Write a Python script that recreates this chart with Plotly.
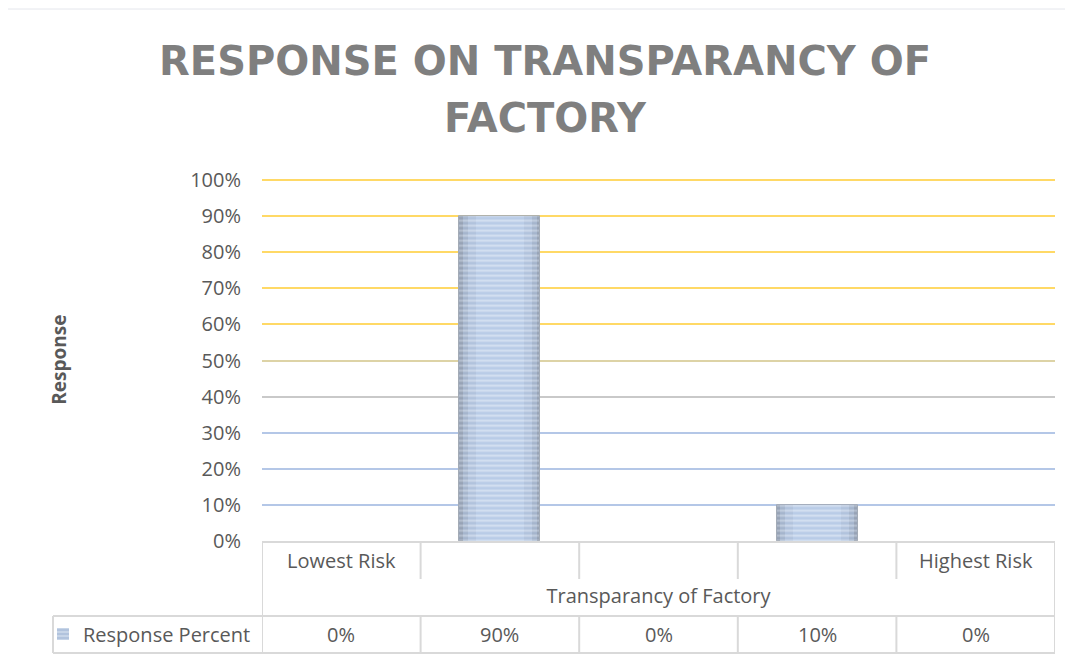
import plotly.graph_objects as go

# data
categories = ["Lowest Risk", "", "", "", "Highest Risk"]
response_pct = [0, 90, 0, 10, 0]
y_ticks = [0, 10, 20, 30, 40, 50, 60, 70, 80, 90, 100]
grid_groups = [  # (values, colour) - excel gradient gridlines
    ([60, 70, 80, 90, 100], "#ffd966"),
    ([50], "#ddd3a6"),
    ([40], "#c9c9c9"),
    ([10, 20, 30], "#b4c7e7"),
]

W, H = 1073, 664
OFF = 8  # page body margin
def px(x): return (x - OFF) / W
def py(y): return 1 - (y - OFF) / H

text_col = "#595959"
border = "#d9d9d9"
font = "Open Sans"

x_idx = list(range(len(categories)))
y_frac = [v / 100 for v in response_pct]
fig = go.Figure()

# stacked-width layers fake excel's gradient fill (dark edges, light centre)
layers = [  # (width, colour, stripe colour)
    (0.51, "#97a3b6", "#d4dbe6"),
    (0.47, "#a5b5cd", "#e0e7f1"),
    (0.40, "#b1c3dd", "#eaf0f8"),
    (0.30, "#b9cce7", "#f1f5fb"),
]
for k, (w, col, fg) in enumerate(layers):
    fig.add_trace(go.Bar(
        x=x_idx, y=y_frac, width=w, name="Response Percent",
        showlegend=(k == 2), hoverinfo="skip" if k else None,
        marker=dict(color=col,
                    line=dict(color="#a3abb6", width=[1 if (v and k == 0) else 0 for v in response_pct]),
                    pattern=dict(shape="-", fgcolor=fg, size=5, solidity=0.4)),
    ))

# one overlaid axis per gridline colour
layout_axes = {}
for i, (vals, col) in enumerate(grid_groups):
    name = "y%d" % (i + 2)
    fig.add_trace(go.Scatter(x=x_idx, y=[None] * len(x_idx), yaxis=name,
                             showlegend=False, hoverinfo="skip"))
    layout_axes["yaxis%d" % (i + 2)] = dict(
        overlaying="y", range=[0, 1.005], domain=[py(541), py(178.2)],
        tickvals=[v / 100 for v in vals], showticklabels=False,
        showgrid=True, gridcolor=col, gridwidth=1.5, zeroline=False, showline=False)

fig.update_layout(**layout_axes)

# table: category separators (row 1) and data row
shapes = []
for i in range(len(categories) + 1):
    xv = i - 0.5
    shapes.append(dict(type="line", xref="x", yref="paper", x0=xv, x1=xv,
                       y0=py(541), y1=py(579), line=dict(color=border, width=2)))
    shapes.append(dict(type="line", xref="x", yref="paper", x0=xv, x1=xv,
                       y0=py(616), y1=py(653), line=dict(color=border, width=2)))
for xv in [-0.5, len(categories) - 0.5]:
    shapes.append(dict(type="line", xref="x", yref="paper", x0=xv, x1=xv,
                       y0=py(579), y1=py(616), line=dict(color=border, width=2)))
shapes += [
    dict(type="line", xref="paper", yref="paper", x0=px(53), x1=px(1055),
         y0=py(616), y1=py(616), line=dict(color=border, width=2)),
    dict(type="line", xref="paper", yref="paper", x0=px(53), x1=px(1055),
         y0=py(653), y1=py(653), line=dict(color=border, width=2)),
    dict(type="line", xref="paper", yref="paper", x0=px(53), x1=px(53),
         y0=py(616), y1=py(653), line=dict(color=border, width=2)),
    # chart border
    dict(type="rect", xref="paper", yref="paper", x0=px(7), x1=1.01,
         y0=-0.01, y1=py(9), line=dict(color="#e4e6ec", width=1)),
]

annotations = [
    dict(text="FACTORY", x=px(545), y=py(118), xref="paper", yref="paper",
         xanchor="center", yanchor="middle", showarrow=False,
         font=dict(family="DejaVu Sans", size=40, color="#7f7f7f", weight="bold")),
]
for i, v in enumerate(response_pct):
    annotations.append(dict(x=i, y=py(634), xref="x", yref="paper",
                            xanchor="center", yanchor="middle",
                            text="%d%%" % v, showarrow=False,
                            font=dict(family=font, size=20, color=text_col)))

fig.update_layout(
    width=W, height=H,
    margin=dict(l=0, r=0, t=0, b=0),
    paper_bgcolor="white", plot_bgcolor="white",
    title=dict(text="RESPONSE ON TRANSPARANCY OF",
               x=px(545), xanchor="center", y=py(61), yanchor="middle", yref="container",
               font=dict(family="DejaVu Sans", size=40, color="#7f7f7f", weight="bold")),
    barmode="overlay",
    xaxis=dict(domain=[px(262), px(1055)], range=[-0.5, len(categories) - 0.5],
               tickvals=x_idx, ticktext=categories, ticks="", ticklabelstandoff=1,
               tickfont=dict(family=font, size=20, color=text_col),
               showline=True, linecolor=border, linewidth=2, showgrid=False,
               zeroline=False, automargin=False,
               title=dict(text="Transparancy of Factory", standoff=16,
                          font=dict(family=font, size=20, color=text_col))),
    yaxis=dict(domain=[py(541), py(178.2)], range=[0, 1.005],
               tickvals=[v / 100 for v in y_ticks],
               ticktext=["%d%%" % v for v in y_ticks],
               tickfont=dict(family=font, size=20, color=text_col),
               ticklabelstandoff=20, showgrid=False, zeroline=False, automargin=False,
               title=dict(text="<b>Response</b>", standoff=118,
                          font=dict(family=font, size=19, color=text_col))),
    legend=dict(x=px(43), y=py(634), xanchor="left", yanchor="middle",
                font=dict(family=font, size=20, color=text_col),
                bgcolor="rgba(0,0,0,0)", itemwidth=30),
    showlegend=True,
    bargap=0,
    shapes=shapes, annotations=annotations,
)

fig.write_html("out.html")
